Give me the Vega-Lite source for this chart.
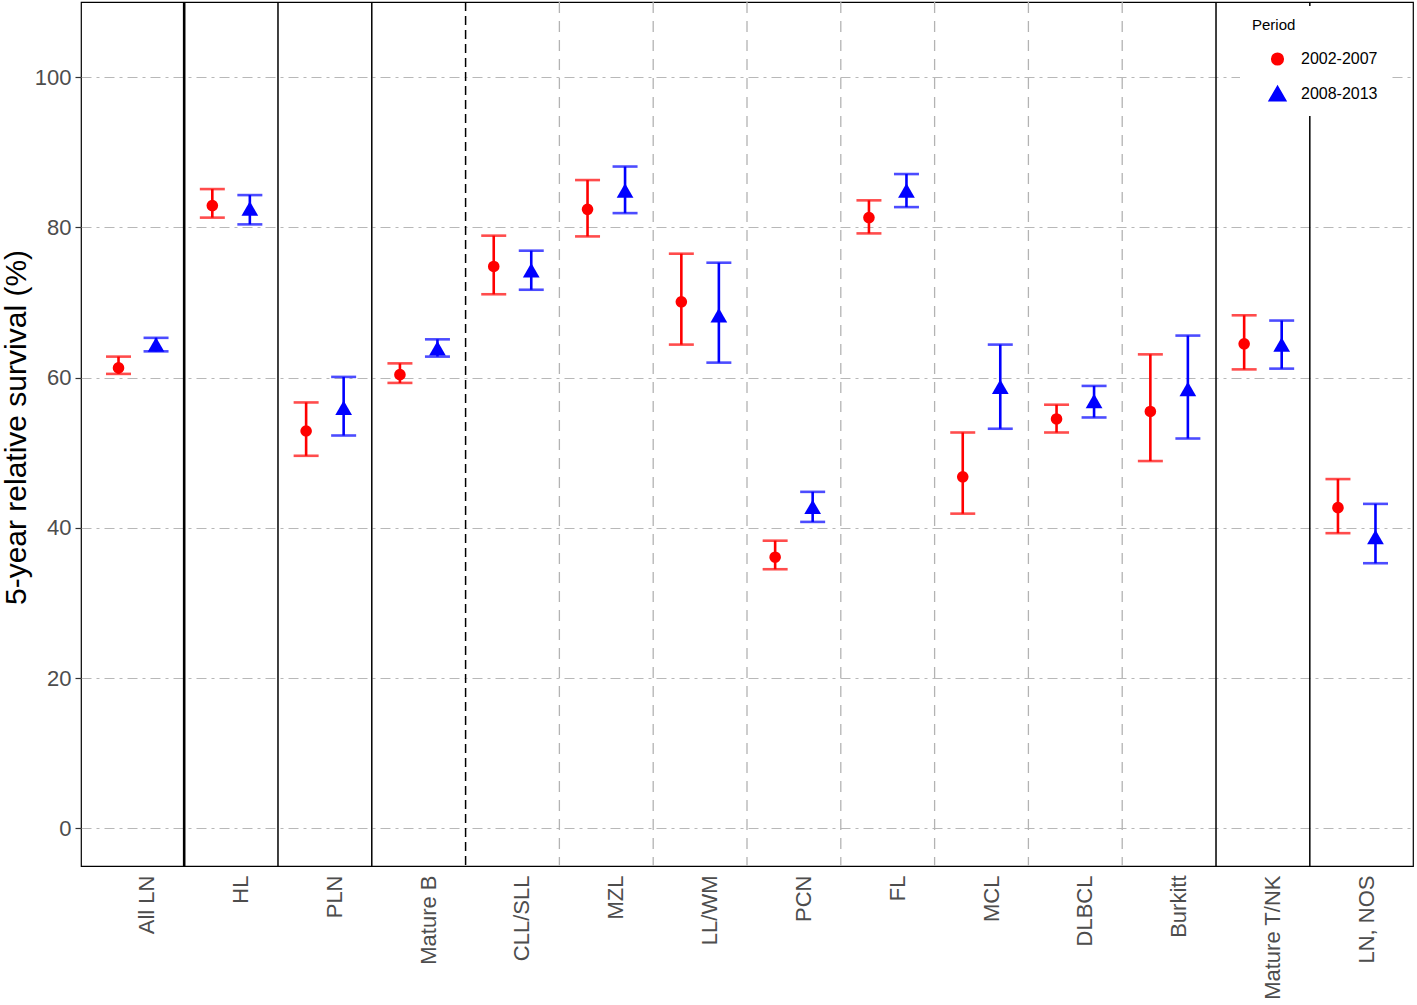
{
  "$schema": "https://vega.github.io/schema/vega-lite/v6.json",
  "width": 1332,
  "height": 864,
  "autosize": {"type": "none"},
  "padding": {"left": 81, "top": 2, "right": 4, "bottom": 139},
  "background": "white",
  "config": {
    "font": "Liberation Sans",
    "view": {"stroke": "black", "strokeWidth": 1.2}
  },
  "datasets": {
    "surv": [
      {"cat": "All LN", "period": "2002-2007", "est": 61.3, "lo": 60.5, "hi": 62.8},
      {"cat": "All LN", "period": "2008-2013", "est": 64.4, "lo": 63.5, "hi": 65.3},
      {"cat": "HL", "period": "2002-2007", "est": 82.9, "lo": 81.3, "hi": 85.1},
      {"cat": "HL", "period": "2008-2013", "est": 82.5, "lo": 80.4, "hi": 84.3},
      {"cat": "PLN", "period": "2002-2007", "est": 52.9, "lo": 49.6, "hi": 56.7},
      {"cat": "PLN", "period": "2008-2013", "est": 56.0, "lo": 52.3, "hi": 60.1},
      {"cat": "Mature B", "period": "2002-2007", "est": 60.4, "lo": 59.3, "hi": 61.9},
      {"cat": "Mature B", "period": "2008-2013", "est": 63.9, "lo": 62.8, "hi": 65.1},
      {"cat": "CLL/SLL", "period": "2002-2007", "est": 74.8, "lo": 71.1, "hi": 78.9},
      {"cat": "CLL/SLL", "period": "2008-2013", "est": 74.3, "lo": 71.7, "hi": 76.9},
      {"cat": "MZL", "period": "2002-2007", "est": 82.4, "lo": 78.8, "hi": 86.3},
      {"cat": "MZL", "period": "2008-2013", "est": 84.9, "lo": 81.9, "hi": 88.1},
      {"cat": "LL/WM", "period": "2002-2007", "est": 70.1, "lo": 64.4, "hi": 76.5},
      {"cat": "LL/WM", "period": "2008-2013", "est": 68.3, "lo": 62.0, "hi": 75.3},
      {"cat": "PCN", "period": "2002-2007", "est": 36.1, "lo": 34.5, "hi": 38.3},
      {"cat": "PCN", "period": "2008-2013", "est": 42.8, "lo": 40.8, "hi": 44.8},
      {"cat": "FL", "period": "2002-2007", "est": 81.3, "lo": 79.2, "hi": 83.6},
      {"cat": "FL", "period": "2008-2013", "est": 84.9, "lo": 82.7, "hi": 87.1},
      {"cat": "MCL", "period": "2002-2007", "est": 46.8, "lo": 41.9, "hi": 52.7},
      {"cat": "MCL", "period": "2008-2013", "est": 58.8, "lo": 53.2, "hi": 64.4},
      {"cat": "DLBCL", "period": "2002-2007", "est": 54.5, "lo": 52.7, "hi": 56.4},
      {"cat": "DLBCL", "period": "2008-2013", "est": 56.9, "lo": 54.7, "hi": 58.9},
      {"cat": "Burkitt", "period": "2002-2007", "est": 55.5, "lo": 48.9, "hi": 63.1},
      {"cat": "Burkitt", "period": "2008-2013", "est": 58.5, "lo": 51.9, "hi": 65.6},
      {"cat": "Mature T/NK", "period": "2002-2007", "est": 64.5, "lo": 61.1, "hi": 68.3},
      {"cat": "Mature T/NK", "period": "2008-2013", "est": 64.4, "lo": 61.2, "hi": 67.6},
      {"cat": "LN, NOS", "period": "2002-2007", "est": 42.7, "lo": 39.3, "hi": 46.5},
      {"cat": "LN, NOS", "period": "2008-2013", "est": 38.8, "lo": 35.3, "hi": 43.2}
    ],
    "seps": [
      {"cat": "All LN", "kind": "thick"},
      {"cat": "HL", "kind": "solid"},
      {"cat": "PLN", "kind": "solid"},
      {"cat": "Mature B", "kind": "blackdash"},
      {"cat": "CLL/SLL", "kind": "greydash"},
      {"cat": "MZL", "kind": "greydash"},
      {"cat": "LL/WM", "kind": "greydash"},
      {"cat": "PCN", "kind": "greydash"},
      {"cat": "FL", "kind": "greydash"},
      {"cat": "MCL", "kind": "greydash"},
      {"cat": "DLBCL", "kind": "greydash"},
      {"cat": "Burkitt", "kind": "solid"},
      {"cat": "Mature T/NK", "kind": "solid"}
    ]
  },
  "encoding": {
    "x": {
      "field": "cat",
      "type": "nominal",
      "scale": {
        "domain": ["All LN", "HL", "PLN", "Mature B", "CLL/SLL", "MZL", "LL/WM", "PCN", "FL", "MCL", "DLBCL", "Burkitt", "Mature T/NK", "LN, NOS"],
        "paddingInner": 0,
        "paddingOuter": 0.1
      },
      "axis": {
        "title": null,
        "labelAngle": -90,
        "labelAlign": "right",
        "labelBaseline": "top",
        "labelFontSize": 22,
        "labelColor": "#4D4D4D",
        "labelPadding": 9,
        "ticks": false,
        "domain": false,
        "grid": false
      }
    }
  },
  "layer": [
    {
      "data": {"name": "surv"},
      "mark": {"type": "rule", "opacity": 0},
      "encoding": {
        "y": {
          "field": "est",
          "type": "quantitative",
          "scale": {"domain": [-5, 110], "nice": false, "zero": false},
          "axis": {
            "title": "5-year relative survival (%)",
            "titleFontSize": 30,
            "titleFontWeight": "normal",
            "titleColor": "black",
            "titleAngle": -90,
            "titleAlign": "center",
            "titleBaseline": "middle",
            "titleX": -65,
            "titleY": 425,
            "values": [0, 20, 40, 60, 80, 100],
            "labelFontSize": 22,
            "labelColor": "#4D4D4D",
            "labelPadding": 4,
            "tickColor": "#333333",
            "tickSize": 6,
            "tickWidth": 1.2,
            "domain": false,
            "grid": true,
            "gridColor": "#B8B8B8",
            "gridWidth": 1.2,
            "gridDash": [10, 5, 3, 5]
          }
        }
      }
    },
    {
      "data": {"name": "seps"},
      "transform": [{"filter": "datum.kind === 'greydash'"}],
      "mark": {"type": "rule", "color": "#B3B3B3", "strokeWidth": 1.3, "strokeDash": [11, 8]},
      "encoding": {"x": {"field": "cat", "type": "nominal", "bandPosition": 1}}
    },
    {
      "data": {"name": "seps"},
      "transform": [{"filter": "datum.kind === 'blackdash'"}],
      "mark": {"type": "rule", "color": "black", "strokeWidth": 1.5, "strokeDash": [9, 5]},
      "encoding": {"x": {"field": "cat", "type": "nominal", "bandPosition": 1}}
    },
    {
      "data": {"name": "seps"},
      "transform": [{"filter": "datum.kind === 'solid'"}],
      "mark": {"type": "rule", "color": "black", "strokeWidth": 1.5},
      "encoding": {"x": {"field": "cat", "type": "nominal", "bandPosition": 1}}
    },
    {
      "data": {"name": "seps"},
      "transform": [{"filter": "datum.kind === 'thick'"}],
      "mark": {"type": "rule", "color": "black", "strokeWidth": 2.6},
      "encoding": {"x": {"field": "cat", "type": "nominal", "bandPosition": 1}}
    },
    {
      "data": {"name": "surv"},
      "mark": {"type": "rule", "strokeWidth": 2.6},
      "encoding": {
        "xOffset": {"field": "period", "type": "nominal", "scale": {"paddingInner": 0, "paddingOuter": 0.25}},
        "y": {"field": "lo", "type": "quantitative"},
        "y2": {"field": "hi"},
        "color": {
          "field": "period", "type": "nominal",
          "scale": {"domain": ["2002-2007", "2008-2013"], "range": ["#FF0000", "#0000FF"]},
          "legend": {
            "title": "Period",
            "orient": "none",
            "legendX": 1159,
            "legendY": 4,
            "padding": 12,
            "fillColor": "white",
            "titleFontSize": 15,
            "titleFontWeight": "normal",
            "titleColor": "black",
            "titlePadding": 18,
            "labelFontSize": 16,
            "labelColor": "black",
            "labelOffset": 14,
            "symbolSize": 170,
            "symbolOpacity": 1,
            "symbolOffset": 16,
            "rowPadding": 15,
            "encode": {
              "symbols": {
                "update": {
                  "opacity": {"value": 1},
                  "fillOpacity": {"value": 1},
                  "strokeOpacity": {"value": 1}
                }
              }
            }
          }
        }
      }
    },
    {
      "data": {"name": "surv"},
      "mark": {"type": "tick", "size": 25, "thickness": 2.6, "orient": "horizontal"},
      "encoding": {
        "xOffset": {"field": "period", "type": "nominal"},
        "y": {"field": "lo", "type": "quantitative"},
        "color": {"field": "period", "type": "nominal"}
      }
    },
    {
      "data": {"name": "surv"},
      "mark": {"type": "tick", "size": 25, "thickness": 2.6, "orient": "horizontal"},
      "encoding": {
        "xOffset": {"field": "period", "type": "nominal"},
        "y": {"field": "hi", "type": "quantitative"},
        "color": {"field": "period", "type": "nominal"}
      }
    },
    {
      "data": {"name": "surv"},
      "mark": {"type": "point", "filled": true, "opacity": 1},
      "encoding": {
        "xOffset": {"field": "period", "type": "nominal"},
        "y": {"field": "est", "type": "quantitative"},
        "color": {"field": "period", "type": "nominal"},
        "size": {
          "field": "period", "type": "nominal",
          "scale": {"domain": ["2002-2007", "2008-2013"], "range": [135, 280]},
          "legend": null
        },
        "shape": {
          "field": "period", "type": "nominal",
          "scale": {"domain": ["2002-2007", "2008-2013"], "range": ["circle", "triangle-up"]}
        }
      }
    }
  ]
}
